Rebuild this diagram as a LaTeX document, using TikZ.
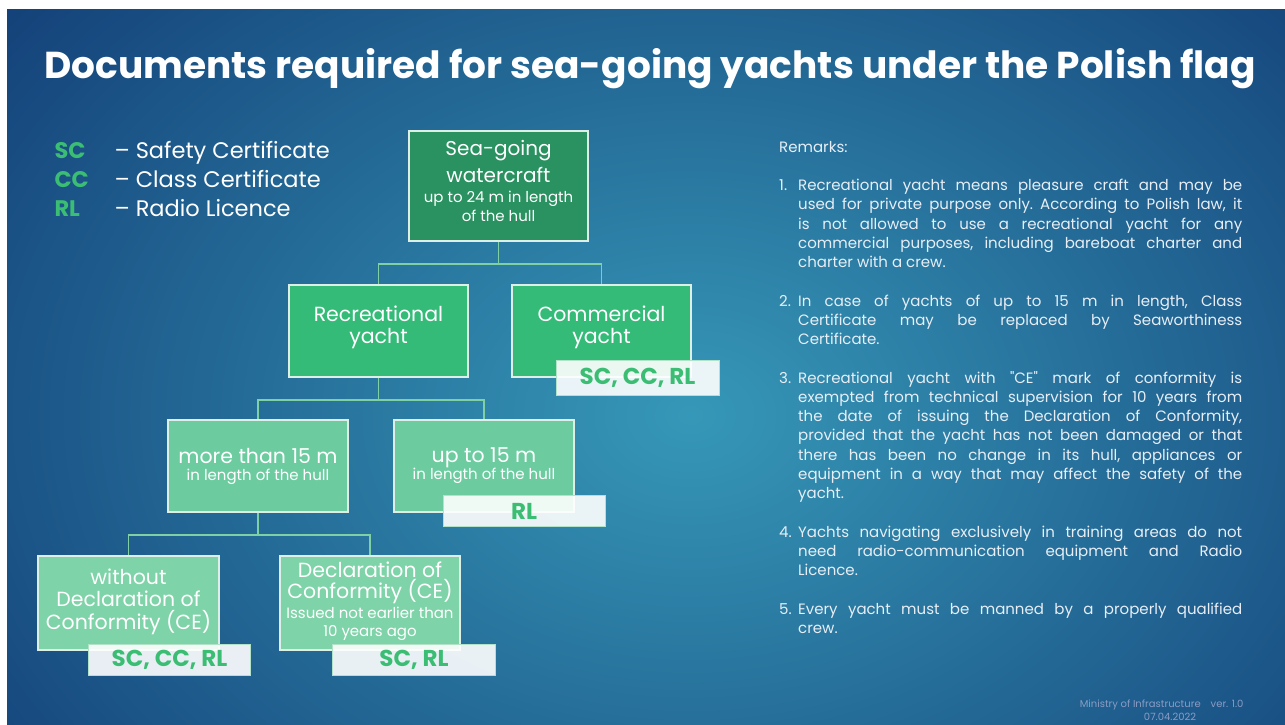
\documentclass[tikz,border=0pt]{standalone}
\usepackage{fontspec}
\setmainfont{Poppins}
\usetikzlibrary{calc}

\definecolor{navybg}{HTML}{0B2B69}
\definecolor{glowbg}{HTML}{3698B8}
\definecolor{greentop}{HTML}{2A9160}
\definecolor{greenmid}{HTML}{35BB78}
\definecolor{greenlow}{HTML}{6CCCA0}
\definecolor{greenbot}{HTML}{7FD3A8}
\definecolor{greentxt}{HTML}{3BBE74}
\definecolor{linkline}{HTML}{7FD1A4}
\definecolor{boxedge}{HTML}{DDEFE6}
\definecolor{remarktxt}{HTML}{E8EEF5}
\definecolor{footgray}{HTML}{8A9CC4}

\newcommand{\finetext}{\fontsize{15}{17}\selectfont}
\newcommand{\lifttext}[1]{\rule[-#1]{0pt}{#1}}
\newcommand{\remitem}[2]{\par\hangindent=19pt\hangafter=1\noindent\hbox to 19pt{#1\hfil}#2\par}

\tikzset{
  yachtbox/.style={draw=boxedge, line width=1.6pt, inner sep=0pt, align=center, text=white,
    font=\fontsize{20.5}{22}\selectfont},
  docbadge/.style={draw=linkline!60!white, line width=0.8pt, fill=white, fill opacity=0.9, text opacity=1,
    text=greentxt, font=\fontsize{23}{23}\selectfont\bfseries, inner sep=0pt, minimum height=31pt},
  link/.style={draw=linkline, line width=1.4pt},
  legendtxt/.style={anchor=base west, font=\fontsize{22.5}{22.5}\selectfont},
}

\begin{document}
\begin{tikzpicture}[x=1pt,y=-1pt]
% slide background
\fill[white] (0,0) rectangle (1285,725);
\begin{scope}
\clip (7,10) rectangle (1285,725);
\fill[navybg] (7,10) rectangle (1285,725);
\shade[inner color=glowbg, outer color=navybg] (690,415) ellipse [x radius=1100, y radius=820];
\end{scope}
\useasboundingbox (0,0) rectangle (1285,725);

% title
\node[anchor=base, text=white, font=\fontsize{37.5}{37.5}\selectfont\bfseries] (title) at (650,78)
  {Documents required for sea-going yachts under the Polish flag};

% legend
\node[legendtxt, text=greentxt] (sc) at (51,158) {\bfseries SC};
\node[legendtxt, text=white] (sctext) at (111,158) {– Safety Certificate};
\node[legendtxt, text=greentxt] (cc) at (51,187) {\bfseries CC};
\node[legendtxt, text=white] (cctext) at (111,187) {– Class Certificate};
\node[legendtxt, text=greentxt] (rl) at (51,216) {\bfseries RL};
\node[legendtxt, text=white] (rltext) at (111,216) {– Radio Licence};

% tree
\node[yachtbox, fill=greentop, minimum width=179pt, minimum height=110pt, font=\fontsize{20}{27}\selectfont] (watercraft) at (498.5,186)
  {Sea-going\\watercraft\\[-7pt]{\finetext up to 24 m in length}\\[-8pt]{\finetext of the hull}\lifttext{10pt}};
\node[yachtbox, fill=greenmid, minimum width=179pt, minimum height=92pt] (recreational) at (378.5,331)
  {Recreational\\yacht\lifttext{12pt}};
\node[yachtbox, fill=greenmid, minimum width=179pt, minimum height=92pt] (commercial) at (601.5,331)
  {Commercial\\yacht\lifttext{12pt}};
\node[yachtbox, fill=greenlow, minimum width=180pt, minimum height=92pt, font=\fontsize{20.5}{17}\selectfont] (morethan) at (258,466)
  {more than 15 m\\{\finetext in length of the hull}\lifttext{4pt}};
\node[yachtbox, fill=greenlow, minimum width=180pt, minimum height=92pt, font=\fontsize{20.5}{17}\selectfont] (upto) at (484,466)
  {up to 15 m\\{\finetext in length of the hull}\lifttext{4pt}};
\node[yachtbox, fill=greenbot, minimum width=181pt, minimum height=94pt, font=\fontsize{20.5}{22.5}\selectfont] (withoutce) at (128.5,603)
  {without\\Declaration of\\Conformity (CE)\lifttext{8pt}};
\node[yachtbox, fill=greenbot, minimum width=180pt, minimum height=94pt, font=\fontsize{20.5}{21.5}\selectfont] (withce) at (370,603)
  {Declaration of\\Conformity (CE)\\[-1.5pt]{\finetext Issued not earlier than}\\[-4pt]{\finetext 10 years ago}\lifttext{8pt}};

\draw[link] (watercraft.south) -- ++(0,22) coordinate (fork1);
\draw[link] (fork1) -| (recreational.north);
\draw[link] (fork1) -| (commercial.north);
\draw[link] (recreational.south) -- ++(0,22) coordinate (fork2);
\draw[link] (fork2) -| (morethan.north);
\draw[link] (fork2) -| (upto.north);
\draw[link] (morethan.south) -- ++(0,22) coordinate (fork3);
\draw[link] (fork3) -| (withoutce.north);
\draw[link] (fork3) -| (withce.north);

% required documents
\node[docbadge, minimum width=163pt, minimum height=35pt] (badgecom) at (637.5,378) {SC, CC, RL};
\node[docbadge, minimum width=162pt] (badgeupto) at (524,511) {RL};
\node[docbadge, minimum width=162pt] (badgewithout) at (169.5,659.5) {SC, CC, RL};
\node[docbadge, minimum width=163pt] (badgewith) at (414,659.5) {SC, RL};

% remarks
\node[anchor=north west, inner sep=0pt, text width=463pt, align=justify, text=remarktxt,
  font=\fontsize{15}{19.3}\selectfont] (remarks) at (779,141) {%
\frenchspacing\setlength{\parskip}{19pt}%
Remarks:
\remitem{1.}{Recreational yacht means pleasure craft and may be\linebreak
used for private purpose only. According to Polish law, it\linebreak
is not allowed to use a recreational yacht for any\linebreak
commercial purposes, including bareboat charter and\linebreak
charter with a crew.}
\remitem{2.}{In case of yachts of up to 15 m in length, Class\linebreak
Certificate may be replaced by Seaworthiness\linebreak
Certificate.}
\remitem{3.}{Recreational yacht with \textquotedbl CE\textquotedbl{} mark of conformity is\linebreak
exempted from technical supervision for 10 years from\linebreak
the date of issuing the Declaration of Conformity,\linebreak
provided that the yacht has not been damaged or that\linebreak
there has been no change in its hull, appliances or\linebreak
equipment in a way that may affect the safety of the\linebreak
yacht.}
\remitem{4.}{Yachts navigating exclusively in training areas do not\linebreak
need radio-communication equipment and Radio\linebreak
Licence.}
\remitem{5.}{Every yacht must be manned by a properly qualified\linebreak
crew.}};

% footer
\node[anchor=base east, text=footgray, font=\fontsize{10}{12}\selectfont] (ministry) at (1247,707)
  {Ministry of Infrastructure\quad ver. 1.0};
\node[anchor=base, text=footgray, font=\fontsize{10}{12}\selectfont] (issuedate) at (1170,720) {07.04.2022};
\end{tikzpicture}
\end{document}
